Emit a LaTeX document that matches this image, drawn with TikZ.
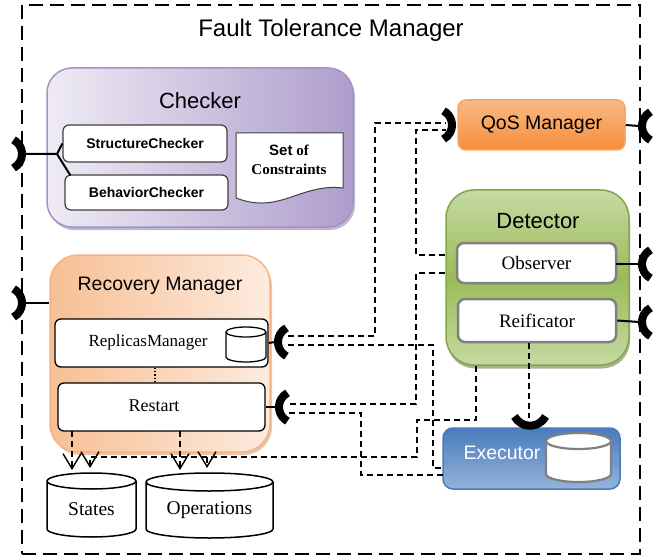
\documentclass[tikz,border=0pt]{standalone}
\usepackage{fontspec}
\setmainfont{Liberation Serif}
\setsansfont{Liberation Sans}
\usetikzlibrary{arrows.meta,shadows,calc}
\newcommand{\myfs}[1]{\fontsize{#1}{#1}\selectfont}
\newcommand{\drawcyl}[6][]{%
  \pgfmathsetmacro{\cylrx}{(#4-#2)/2}%
  \draw[#1] (#2,#3+#6) -- (#2,#5-#6) arc[start angle=180,end angle=0,x radius=\cylrx,y radius=#6] -- (#4,#3+#6) arc[start angle=0,end angle=-180,x radius=\cylrx,y radius=#6] -- cycle;
  \draw[#1] (#2,#3+#6) arc[start angle=180,end angle=0,x radius=\cylrx,y radius=#6];
}
\definecolor{ckL}{HTML}{EFEBF5}
\definecolor{ckR}{HTML}{AE9DCC}
\definecolor{ckB}{HTML}{A592C4}
\definecolor{ckS}{HTML}{7E6B9E}
\definecolor{rmL}{HTML}{F7BF94}
\definecolor{rmR}{HTML}{FDEBDE}
\definecolor{rmB}{HTML}{F5B384}
\definecolor{rmS}{HTML}{C98F66}
\definecolor{qT}{HTML}{FAB985}
\definecolor{qB}{HTML}{F68D3A}
\definecolor{qD}{HTML}{F7A666}
\definecolor{dT}{HTML}{C6DAA2}
\definecolor{dM}{HTML}{9ABB59}
\definecolor{dD}{HTML}{82A64A}
\definecolor{dS}{HTML}{4E6626}
\definecolor{eT}{HTML}{4A7BBB}
\definecolor{eB}{HTML}{94B3DC}
\definecolor{eD}{HTML}{4A7AB8}
\definecolor{gr}{HTML}{808080}
\definecolor{dk}{HTML}{404040}
\begin{document}
\begin{tikzpicture}[x=1pt,y=-1pt,
  sock/.pic={\draw[line width=8pt] (11.49,14.13) arc[start angle=118,end angle=242,radius=16];},
  frm/.style={draw, line width=1.6pt, dash pattern=on 14pt off 7pt, inner sep=0pt},
  cn/.style={line width=1.5pt, dash pattern=on 6pt off 4pt},
  sol/.style={line width=2pt},
  vb/.style={-{Straight Barb[length=15pt,width=18pt,line width=1.4pt]}},
  hd/.style={inner sep=0pt},
  big/.style={rectangle, inner sep=0pt},
  wbox/.style={rectangle, draw, fill=white, rounded corners=6pt, inner sep=0pt},
  cylsty/.style={line width=1.5pt, fill=white}
]
\useasboundingbox (0,0) rectangle (661,556);

% outer frame
\node[frm, minimum width=618pt, minimum height=549pt] (ftm) at (331,279.5) {};
\node[hd, font=\sffamily\myfs{24}] (ftmt) at (331,30) {Fault Tolerance Manager};

% Checker
\node[big, rounded corners=25pt, minimum width=306pt, minimum height=159pt, draw=ckB, line width=1.5pt,
  left color=ckL, right color=ckR,
  drop shadow={shadow xshift=2pt,shadow yshift=-3pt,fill=ckS}] (chk) at (200,147.5) {};
\node[hd, font=\sffamily\myfs{22}] (chkt) at (200,101) {Checker};
\node[wbox, draw=dk, line width=1.2pt, minimum width=164pt, minimum height=37pt, font=\sffamily\bfseries\myfs{14}] (sc) at (145,143.5) {StructureChecker};
\node[wbox, draw=dk, line width=1.2pt, minimum width=163pt, minimum height=35pt, font=\sffamily\bfseries\myfs{14}] (bc) at (146.5,192.5) {BehaviorChecker};
\draw[fill=white, line width=1pt, draw=dk] (236,133) -- (343,133) -- (343,188) .. controls (300,183) and (280,215) .. (236,198) -- cycle;
\node[hd, align=center, font=\bfseries\fontsize{15}{19}\selectfont] (soc) at (289,160) {{\sffamily Set} of\\Constraints};

% Recovery Manager
\node[big, rounded corners=28pt, minimum width=220pt, minimum height=197pt, draw=rmB, line width=1.5pt,
  left color=rmL, right color=rmR,
  drop shadow={shadow xshift=2pt,shadow yshift=-3pt,fill=rmS}] (rec) at (160,353.5) {};
\node[hd, font=\sffamily\myfs{19.5}] (rect) at (160,286) {Recovery Manager};
\node[wbox, line width=1.3pt, minimum width=213pt, minimum height=48pt] (rep) at (161.5,343) {};
\node[hd, font=\myfs{17}] (rept) at (148,342) {ReplicasManager};
\drawcyl[line width=1.3pt, fill=white]{226}{327}{266}{362}{5}
\node[wbox, line width=1.3pt, minimum width=207pt, minimum height=48pt] (res) at (161.5,407) {};
\node[hd, font=\myfs{18}] (rest) at (154,406) {Restart};
\draw[dotted, line width=1.3pt] ($(rep.south)+(-6.5,0)$) -- ($(res.north)+(-6.5,0)$);

% QoS Manager
\node[big, rounded corners=8pt, minimum width=167pt, minimum height=50pt, draw=qD, line width=1.5pt,
  top color=qT, bottom color=qB, font=\sffamily\myfs{19.5}] (qos) at (541.5,125) {QoS Manager};

% Detector
\node[big, rounded corners=28pt, minimum width=183pt, minimum height=175pt, draw=dD, line width=1.5pt,
  top color=dT, bottom color=dT, middle color=dM,
  drop shadow={shadow xshift=1pt,shadow yshift=-3.5pt,fill=dS}] (det) at (537.5,277.5) {};
\node[hd, font=\sffamily\myfs{22}] (dett) at (538,221) {Detector};
\node[wbox, draw=gr, line width=2.5pt, rounded corners=7pt, minimum width=159pt, minimum height=40pt, font=\myfs{19}] (ob) at (536.5,263) {Observer};
\node[wbox, draw=gr, line width=2.5pt, rounded corners=7pt, minimum width=158pt, minimum height=43pt, font=\myfs{19}] (re) at (537,320.5) {Reificator};

% Executor
\node[big, rounded corners=10pt, minimum width=177pt, minimum height=61pt, draw=eD, line width=1.5pt,
  top color=eT, bottom color=eB] (exe) at (531.5,458.5) {};
\node[hd, font=\sffamily\myfs{19.5}, text=white] (exet) at (502,453) {Executor};
\drawcyl[line width=2.2pt, draw=gr, fill=white]{546}{433}{611}{482}{8}

% States / Operations
\drawcyl[cylsty]{47}{473}{136}{537}{8}
\drawcyl[cylsty]{146}{473}{273}{538}{9}
\node[hd, font=\myfs{19.5}] (st) at (91.5,509) {States};
\node[hd, font=\myfs{19.5}] (op) at (209.5,510) {Operations};

% sockets
\coordinate (sCk) at (25,154);
\coordinate (sRm) at (25,303);
\coordinate (sQl) at (455,125);
\coordinate (sQr) at (639,126);
\coordinate (sOb) at (639,264);
\coordinate (sRe) at (639,322);
\coordinate (sRp) at (275,342);
\coordinate (sRs) at (276,407);
\coordinate (sEx) at (530,429);
\pic[rotate=180] at (sCk) {sock};
\pic[rotate=180] at (sRm) {sock};
\pic[rotate=180] at (sQl) {sock};
\pic at (sQr) {sock};
\pic at (sOb) {sock};
\pic at (sRe) {sock};
\pic at (sRp) {sock};
\pic at (sRs) {sock};
\pic[rotate=90, scale=1.1] at (sEx) {sock};

% solid links
\coordinate (ckj) at (57,154);
\draw[sol] (sCk) -- (ckj) -- (sc.west);
\draw[sol] (ckj) -- ($(bc.north west)+(6,1)$);
\draw[sol] (sRm) -- (sRm -| rec.west);
\draw[sol] (qos.east) -- (sQr);
\draw[sol] (ob.east) -- (sOb -| ob.east) -- (sOb);
\draw[sol] (re.east) -- (sRe);
\draw[sol] (rep.east) -- (sRp);
\draw[sol] (res.east) -- (sRs);

% dashed connectors
\coordinate (a1) at (288,336);
\coordinate (a2) at (446,123);
\draw[cn] (a1) -- (375,336) -- (375,123) -- (a2);
\coordinate (b1) at (445,255);
\coordinate (b2) at (446,130);
\draw[cn] (b1) -- (416,255) -- (416,130) -- (b2);
\coordinate (c1) at (445,273);
\coordinate (c2) at (289,404);
\draw[cn] (c1) -- (416,273) -- (416,404) -- (c2);
\coordinate (e1) at (288,345);
\coordinate (e2) at (443,468);
\draw[cn] (e1) -- (433,345) -- (433,468) -- (e2);
\coordinate (d1) at (289,413);
\coordinate (d2) at (443,475);
\draw[cn] (d1) -- (361,413) -- (361,475) -- (d2);
\coordinate (f1) at (476,366);
\coordinate (f2) at (90,468);
\coordinate (fj) at (207,457);
\coordinate (f3) at (207,468);
\draw[cn, vb] (f1) -- (476,420) -- (417,420) -- (417,457) -- (90,457) -- (f2);
\draw[cn, vb] (fj) -- (f3);
\coordinate (g1) at (529,343);
\coordinate (g2) at (529,418);
\draw[cn] (g1) -- (g2);
\coordinate (r1) at (72,431);
\coordinate (r2) at (72,470);
\coordinate (r3) at (180,431);
\coordinate (r4) at (180,470);
\draw[cn, vb] (r1) -- (r2);
\draw[cn, vb] (r3) -- (r4);
\end{tikzpicture}
\end{document}
